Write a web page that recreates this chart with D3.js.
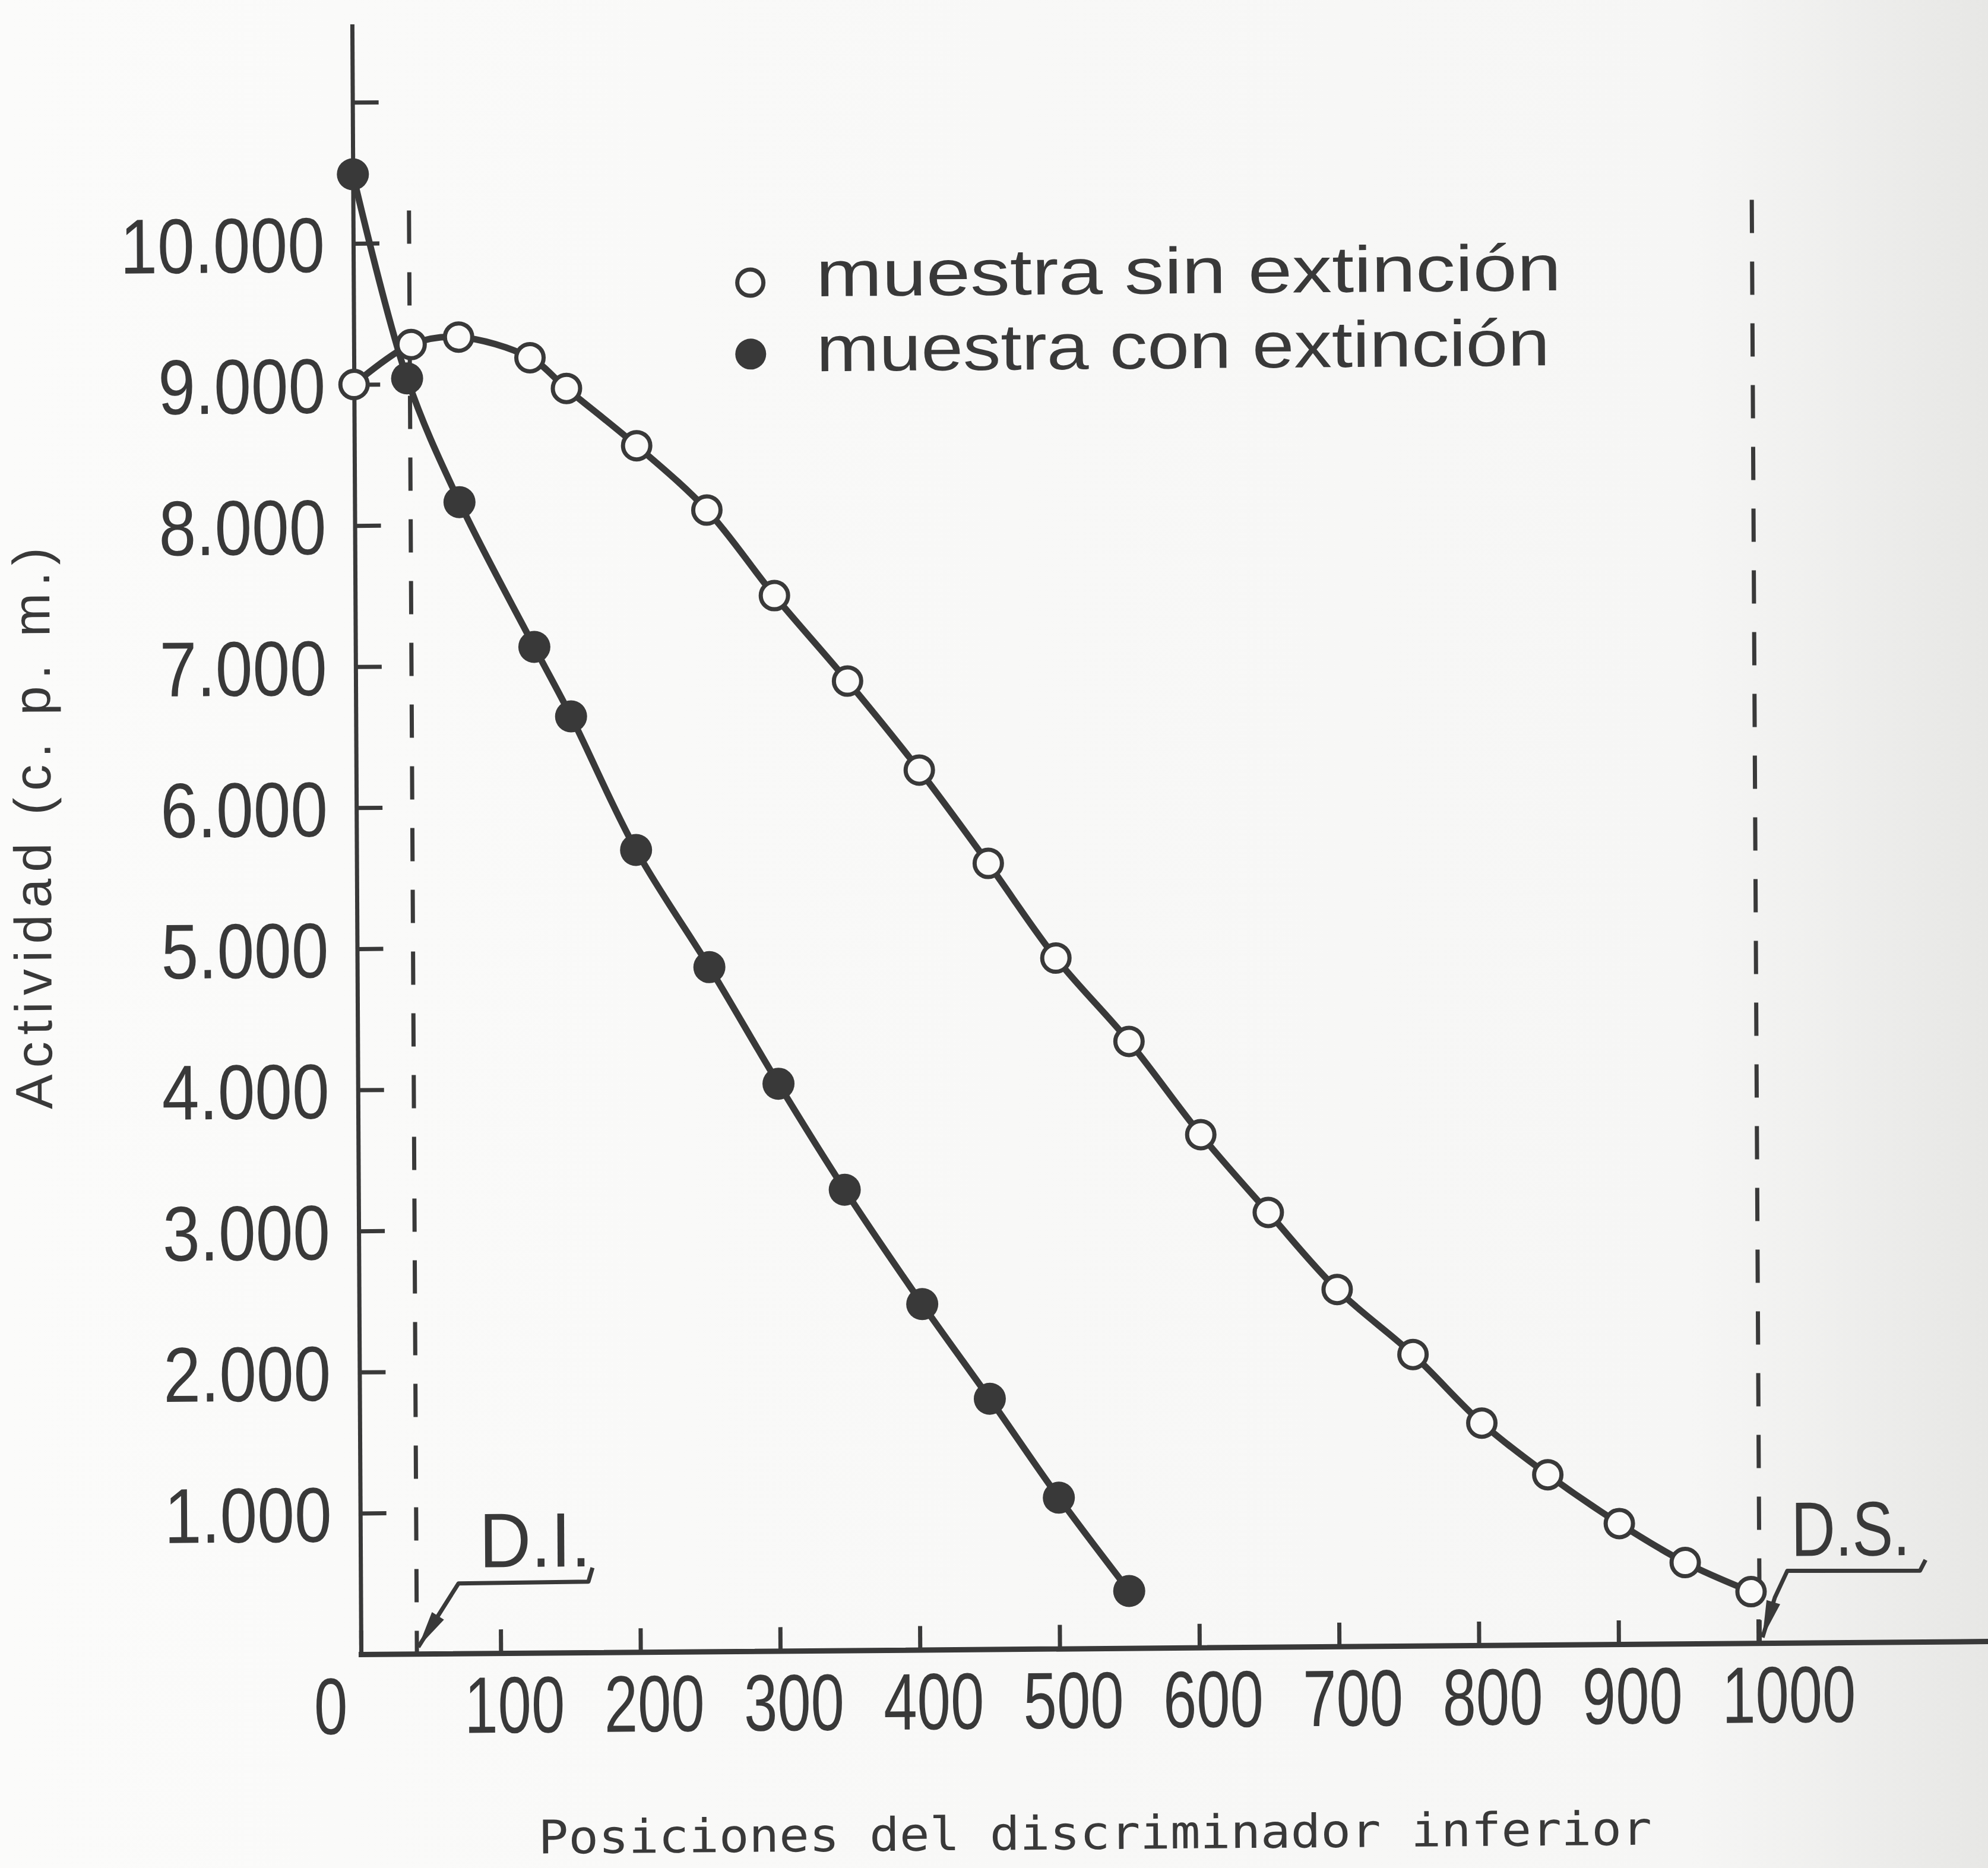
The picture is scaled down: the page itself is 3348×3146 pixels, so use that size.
<!DOCTYPE html>
<html>
<head>
<meta charset="utf-8">
<script src="https://cdn.jsdelivr.net/npm/d3@7"></script>
<style>
  body { margin: 0; background: #f9f9f8; }
  svg { display: block; }
</style>
</head>
<body>
<div id="chart"></div>
<script>
// ---- data ----
// muestra sin extinción (open circles)
const posSin = [0, 41, 75, 126, 152, 202, 252, 300, 352, 403, 452, 500, 552, 603, 651, 700, 754, 803, 850, 901, 948, 995];
const actSin = [9000, 9280, 9330, 9180, 8960, 8550, 8090, 7480, 6870, 6235, 5570, 4895, 4300, 3635, 3080, 2530, 2065, 1575, 1205, 855, 575, 365];
// muestra con extinción (filled circles)
const posCon = [0, 38, 75, 128, 154, 200, 252, 301, 348, 403, 451, 500, 550];
const actCon = [10490, 9040, 8160, 7130, 6635, 5685, 4850, 4020, 3265, 2450, 1775, 1070, 405];

const xTicks = [0, 100, 200, 300, 400, 500, 600, 700, 800, 900, 1000];
const xTickLabels = ["0", "100", "200", "300", "400", "500", "600", "700", "800", "900", "1000"];
const yTicks = [1000, 2000, 3000, 4000, 5000, 6000, 7000, 8000, 9000, 10000, 11000];
const yTickLabels = ["1.000", "2.000", "3.000", "4.000", "5.000", "6.000", "7.000", "8.000", "9.000", "10.000", ""];

const legendLabels = ["muestra sin extinción", "muestra con extinción"];
const discLabels = ["D.I.", "D.S."];
const discPositions = [40, 1001];

const xTitle = "Posiciones del discriminador inferior";
const yTitle = "Actividad (c. p. m.)";

// ---- drawing ----
const W = 3348, H = 3146;
const ink = "#393939";
const paper = "#fafaf9";
const sans = "'Liberation Sans', Arial, sans-serif";

const svg = d3.select("#chart").append("svg")
  .attr("width", W)
  .attr("height", H);

// slightly greyer paper towards the right edge, like the scan
const grad = svg.append("defs").append("linearGradient")
  .attr("id", "paper").attr("x1", 0).attr("x2", 1).attr("y1", 0).attr("y2", 0);
grad.append("stop").attr("offset", 0).attr("stop-color", "#fbfbfa");
grad.append("stop").attr("offset", 0.85).attr("stop-color", "#f6f6f5");
grad.append("stop").attr("offset", 1).attr("stop-color", "#e7e7e5");
svg.append("rect").attr("width", W).attr("height", H).attr("fill", "url(#paper)");

// the page is scanned a little crooked (x axis rises to the right, y axis leans left)
let g = svg.append("g")
  .attr("transform", "matrix(1,-0.008,0.0055,1,608,2786)");

let x = d3.scaleLinear().domain([0, 1175]).range([0, 2765]);
let y = d3.scaleLinear().domain([0, 11540]).range([0, -2742]);

// y axis
let yAxis = d3.axisLeft(y)
  .tickValues(yTicks)
  .tickSizeInner(-44)
  .tickSizeOuter(0)
  .tickPadding(56)
  .tickFormat((d, i) => yTickLabels[i]);

let yg = g.append("g").call(yAxis);
yg.select(".domain").attr("stroke", ink).attr("stroke-width", 7).attr("stroke-linecap", "square");
yg.selectAll(".tick line").attr("stroke", ink).attr("stroke-width", 7);
yg.selectAll(".tick text")
  .attr("fill", ink)
  .attr("font-family", sans)
  .attr("font-size", 131)
  .attr("dy", "0.36em")
  .attr("transform", "scale(0.86,1)");

// x axis
let xAxis = d3.axisBottom(x)
  .tickValues(xTicks)
  .tickSizeInner(-40)
  .tickSizeOuter(0)
  .tickFormat((d, i) => xTickLabels[i]);

let xg = g.append("g").call(xAxis);
xg.select(".domain").attr("stroke", ink).attr("stroke-width", 9).attr("stroke-linecap", "square");
xg.selectAll(".tick line").attr("stroke", ink).attr("stroke-width", 7);
xg.selectAll(".tick text")
  .attr("fill", ink)
  .attr("font-family", sans)
  .attr("font-size", 135)
  .attr("text-anchor", "start")
  .attr("y", 134)
  .attr("dy", 0)
  .attr("x", d => (d === 0 ? -80 : -62) / 0.75)
  .attr("transform", "scale(0.75,1)");

// axis titles
g.append("text")
  .attr("transform", "translate(-515,-1395) rotate(-90)")
  .attr("text-anchor", "middle")
  .attr("font-family", sans)
  .attr("font-size", 88)
  .attr("fill", ink)
  .attr("textLength", 946)
  .attr("lengthAdjust", "spacing")
  .text(yTitle);

g.append("text")
  .attr("x", 297)
  .attr("y", 338)
  .attr("font-family", "'DejaVu Sans Mono', 'Liberation Mono', monospace")
  .attr("font-size", 78)
  .attr("fill", ink)
  .attr("textLength", 1875)
  .attr("lengthAdjust", "spacingAndGlyphs")
  .text(xTitle);

// discriminator positions (dashed verticals)
g.selectAll(".disc")
  .data(discPositions)
  .enter()
  .append("line")
  .attr("class", "disc")
  .attr("x1", d => x(d)).attr("x2", d => x(d))
  .attr("y1", y(10230)).attr("y2", y(0))
  .attr("stroke", ink)
  .attr("stroke-width", 7)
  .attr("stroke-dasharray", "56,48");

// curves
let line = d3.line()
  .x(d => x(d[0]))
  .y(d => y(d[1]))
  .curve(d3.curveCatmullRom.alpha(0.5));

let sin = d3.zip(posSin, actSin);
let con = d3.zip(posCon, actCon);

g.append("path").datum(con)
  .attr("d", line)
  .attr("fill", "none").attr("stroke", ink).attr("stroke-width", 11);

g.append("path").datum(sin)
  .attr("d", line)
  .attr("fill", "none").attr("stroke", ink).attr("stroke-width", 11);

g.selectAll(".dot-con")
  .data(con)
  .enter()
  .append("circle")
  .attr("class", "dot-con")
  .attr("cx", d => x(d[0]))
  .attr("cy", d => y(d[1]))
  .attr("r", 27)
  .attr("fill", ink);

g.selectAll(".dot-sin")
  .data(sin)
  .enter()
  .append("circle")
  .attr("class", "dot-sin")
  .attr("cx", d => x(d[0]))
  .attr("cy", d => y(d[1]))
  .attr("r", 23)
  .attr("fill", paper)
  .attr("stroke", ink)
  .attr("stroke-width", 7);

// legend
let legend = g.append("g");
let legendRows = [
  { marker: [284, 9699], text: [331, 9599], width: 1255, open: true },
  { marker: [284, 9193], text: [331, 9068], width: 1235, open: false }
];
legendRows.forEach(function(row, i) {
  legend.append("circle")
    .attr("cx", x(row.marker[0]))
    .attr("cy", y(row.marker[1]))
    .attr("r", row.open ? 22 : 26)
    .attr("fill", row.open ? paper : ink)
    .attr("stroke", row.open ? ink : "none")
    .attr("stroke-width", 7);
  legend.append("text")
    .attr("x", x(row.text[0]))
    .attr("y", y(row.text[1]))
    .attr("font-family", sans)
    .attr("font-size", 110)
    .attr("fill", ink)
    .attr("textLength", row.width)
    .attr("lengthAdjust", "spacingAndGlyphs")
    .text(legendLabels[i]);
});

// D.I. / D.S. callouts with arrows
let callouts = [
  { text: [85, 610], width: 188, path: [[166, 600], [163, 502], [70, 496], [41, 48]] },
  { text: [1024, 615], width: 200, path: [[1120, 580], [1116, 504], [1021, 510], [1012, 322], [1003, 40]] }
];

callouts.forEach(function(c, i) {
  let pts = c.path.map(p => [x(p[0]), y(p[1])]);
  g.append("path")
    .attr("d", d3.line()(pts))
    .attr("fill", "none")
    .attr("stroke", ink)
    .attr("stroke-width", 7)
    .attr("stroke-linejoin", "round");

  // arrow head at the tip
  let tip = pts[pts.length - 1], prev = pts[pts.length - 2];
  let dx = tip[0] - prev[0], dy = tip[1] - prev[1];
  let len = Math.sqrt(dx * dx + dy * dy);
  let ux = dx / len, uy = dy / len;
  let bx = tip[0] - ux * 62, by = tip[1] - uy * 62;
  let w = 12;
  g.append("path")
    .attr("d", "M" + tip + "L" + [bx - uy * w, by + ux * w] + "L" + [bx + uy * w, by - ux * w] + "Z")
    .attr("fill", ink);

  g.append("text")
    .attr("x", x(c.text[0]))
    .attr("y", y(c.text[1]))
    .attr("font-family", sans)
    .attr("font-size", 130)
    .attr("fill", ink)
    .attr("textLength", c.width)
    .attr("lengthAdjust", "spacingAndGlyphs")
    .text(discLabels[i]);
});
</script>
</body>
</html>
